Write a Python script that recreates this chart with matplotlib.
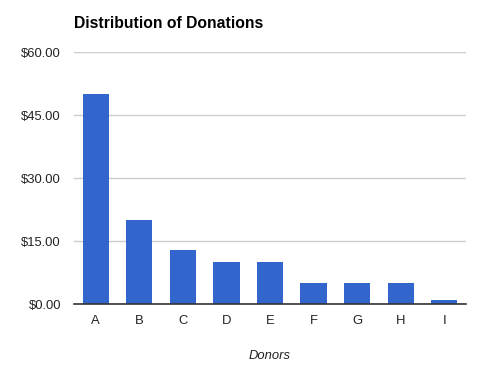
import matplotlib
matplotlib.use("Agg")
import matplotlib.pyplot as plt

donors = ["A", "B", "C", "D", "E", "F", "G", "H", "I"]
amounts = [50, 20, 13, 10, 10, 5, 5, 5, 1]
y_ticks = [0, 15, 30, 45, 60]

plt.rcParams["font.family"] = ["Liberation Sans", "DejaVu Sans"]

fig = plt.figure(figsize=(4.99, 3.77), dpi=100)
ax = fig.add_axes([0.1483, 0.1929, 0.7856, 0.6684])

ax.bar(range(len(donors)), amounts, width=0.6, color="#3366cc", zorder=3)
ax.set_xlim(-0.5, len(donors) - 0.5)
ax.set_ylim(0, 60)
ax.set_yticks(y_ticks)
ax.set_yticklabels([f"${v:.2f}" for v in y_ticks])
ax.set_xticks(range(len(donors)))
ax.set_xticklabels(donors)

ax.grid(axis="y", color="#cccccc", lw=1, zorder=0)
for s in ["top", "right", "left"]:
    ax.spines[s].set_visible(False)
ax.spines["bottom"].set_color("#333333")
ax.spines["bottom"].set_linewidth(1.2)
ax.spines["bottom"].set_zorder(4)
ax.tick_params(axis="both", length=0, labelsize=9.4, colors="#222222")
ax.tick_params(axis="y", pad=9.4)
ax.tick_params(axis="x", pad=8)

ax.set_xlabel("Donors", style="italic", fontsize=9.4, labelpad=16.5, color="#222222")
fig.text(74 / 499, 1 - 23 / 377, "Distribution of Donations",
         fontsize=11.3, fontweight="bold", va="center", ha="left")

fig.savefig("out.png", dpi=100, facecolor="white")
